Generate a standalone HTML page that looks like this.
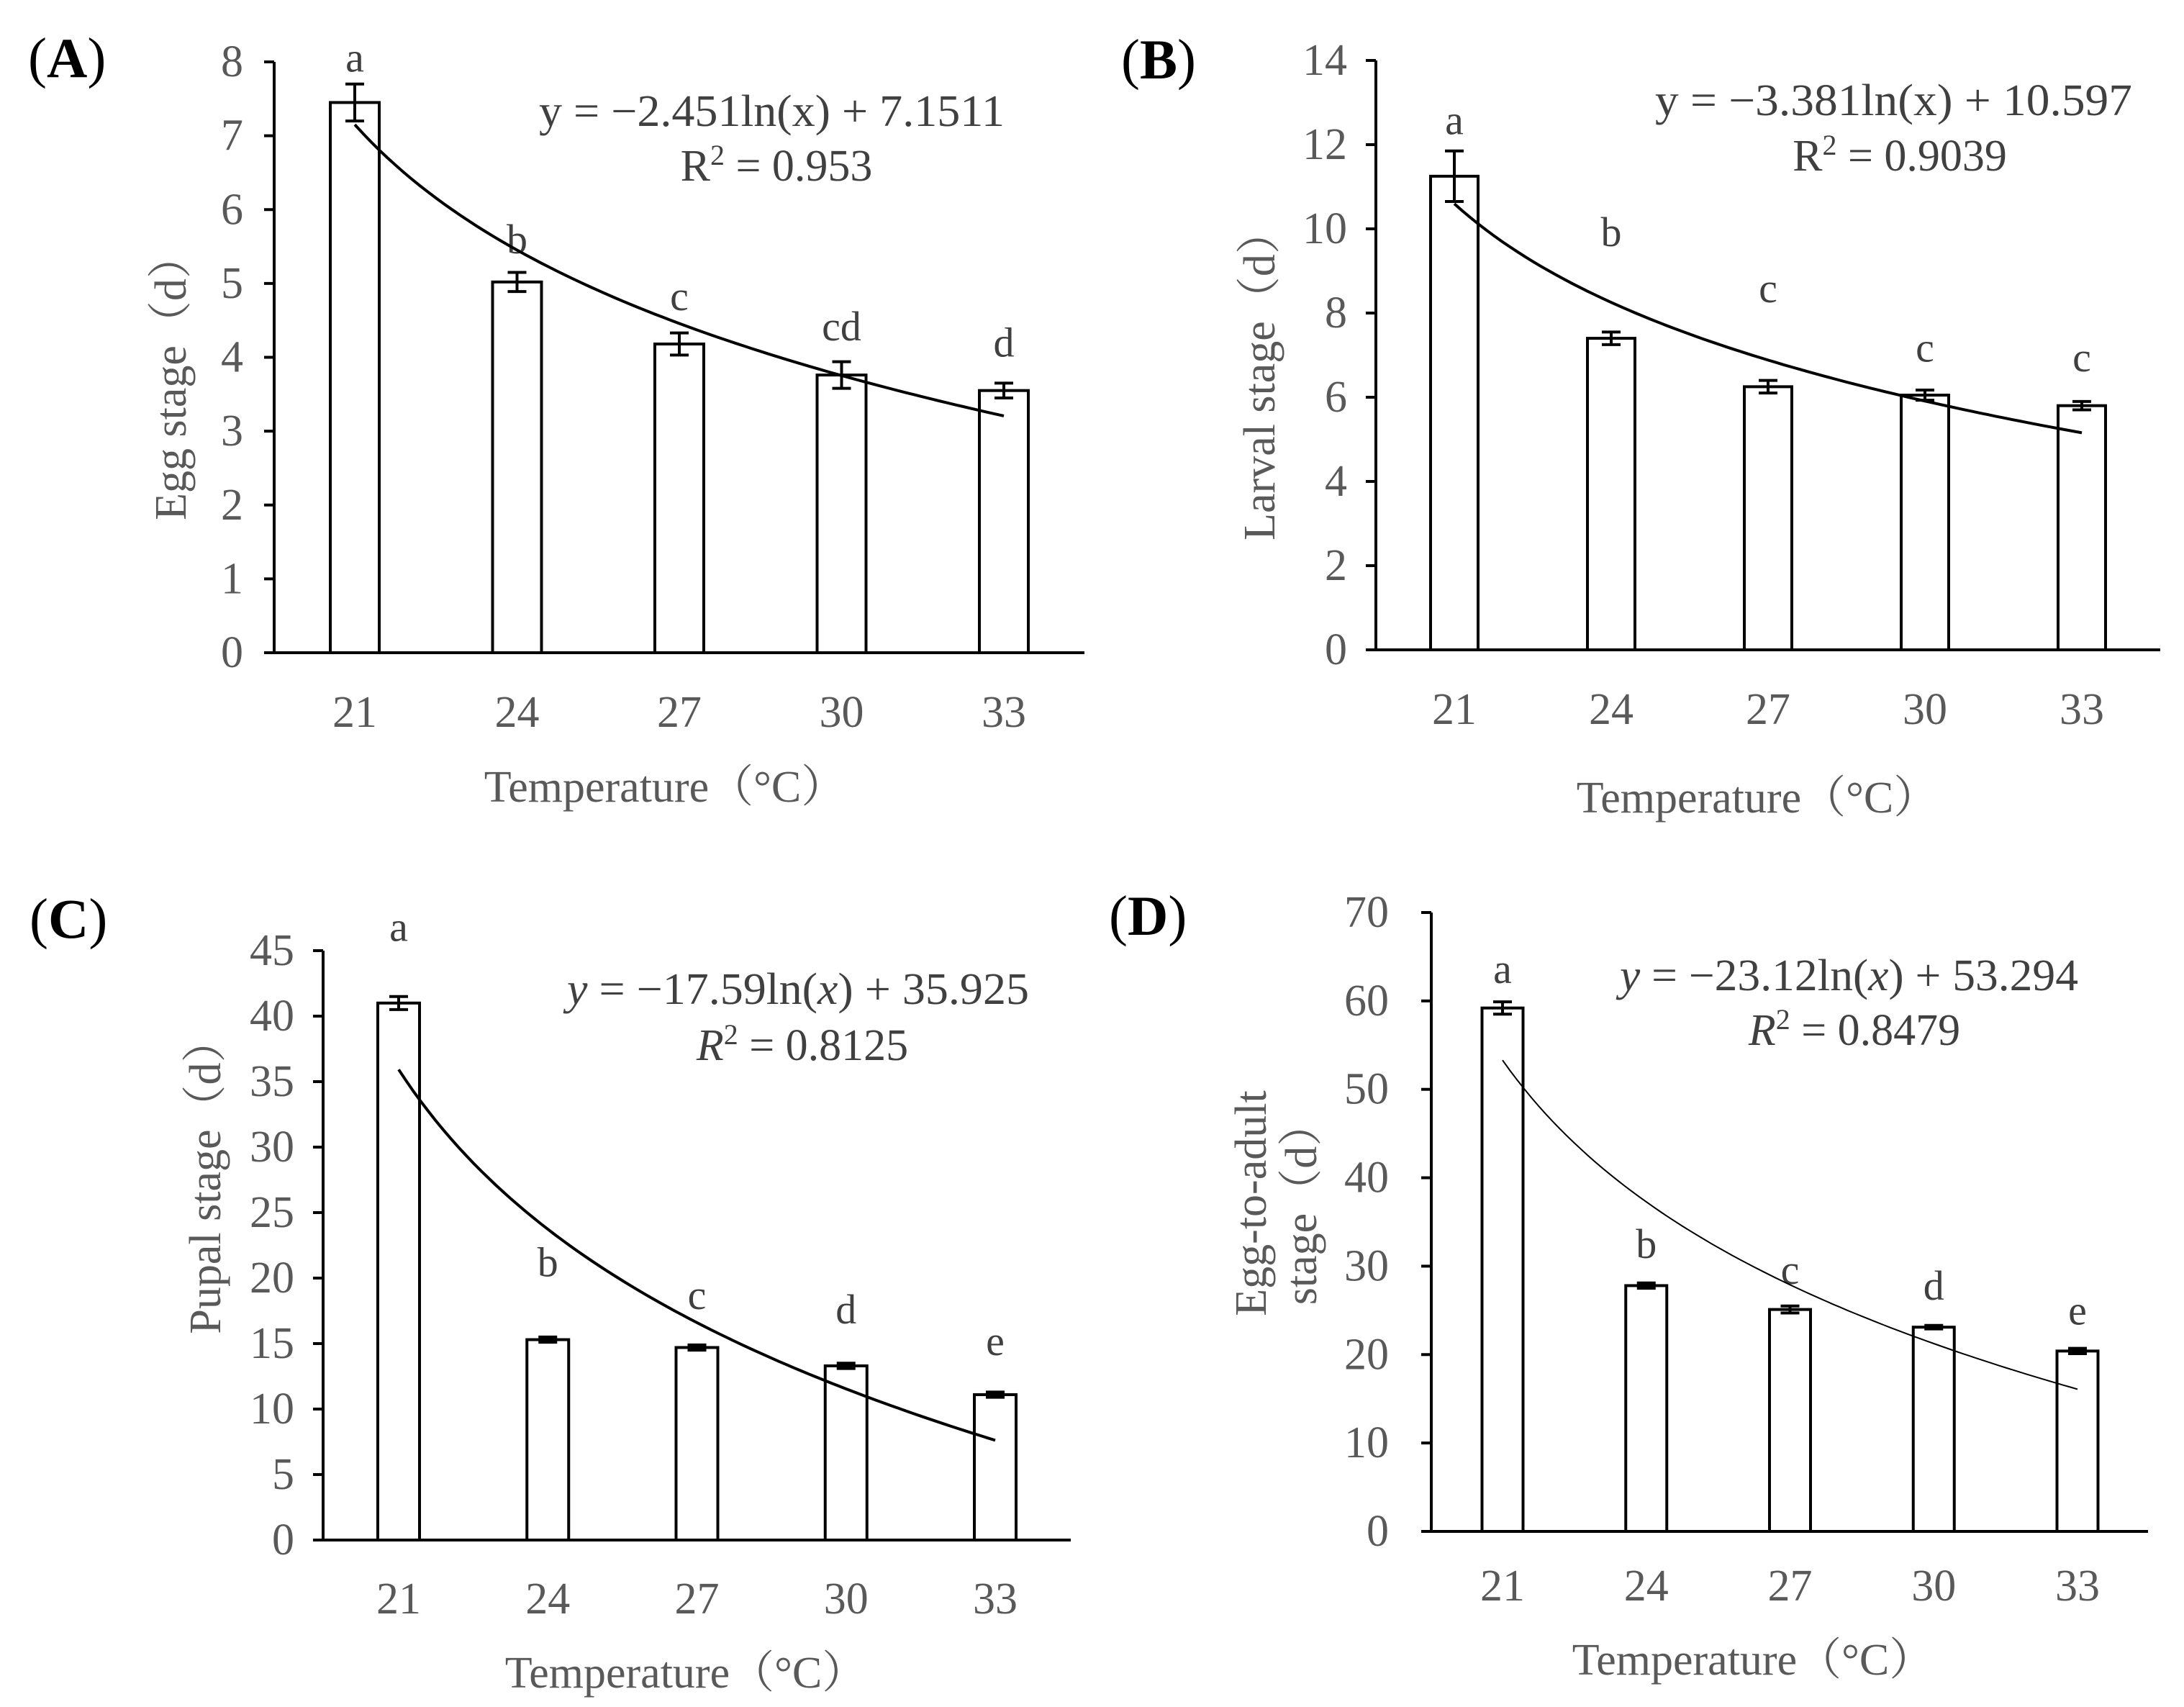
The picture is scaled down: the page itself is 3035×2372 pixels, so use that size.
<!DOCTYPE html>
<html><head><meta charset="utf-8"><style>
html,body{margin:0;padding:0;background:#fff;}
svg{display:block;}
text{font-family:"Liberation Serif","Noto Serif CJK SC",serif;}
</style></head><body>
<svg id="fig" width="3035" height="2372" viewBox="0 0 3035 2372" xmlns="http://www.w3.org/2000/svg"></svg>
<script>
const categories = ["21","24","27","30","33"];
const eggValues = [7.45,5.02,4.18,3.76,3.55];
const eggErrors = [0.25,0.13,0.15,0.18,0.10];
const eggLetters = ["a","b","c","cd","d"];
const eggLetterLevel = [8.06,5.6,4.83,4.42,4.2];
const eggTicks = [0,1,2,3,4,5,6,7,8];
const eggFit = [-2.451,7.1511];
const larvalValues = [11.25,7.4,6.25,6.05,5.8];
const larvalErrors = [0.6,0.15,0.15,0.12,0.1];
const larvalLetters = ["a","b","c","c","c"];
const larvalLetterLevel = [12.58,9.92,8.59,7.18,6.95];
const larvalTicks = [0,2,4,6,8,10,12,14];
const larvalFit = [-3.381,10.597];
const pupalValues = [41.0,15.3,14.7,13.3,11.1];
const pupalErrors = [0.5,0.2,0.2,0.2,0.2];
const pupalLetters = ["a","b","c","d","e"];
const pupalLetterLevel = [46.8,21.2,18.7,17.6,15.2];
const pupalTicks = [0,5,10,15,20,25,30,35,40,45];
const pupalFit = [-17.59,35.925];
const totalValues = [59.2,27.8,25.1,23.1,20.4];
const totalErrors = [0.7,0.3,0.4,0.2,0.3];
const totalLetters = ["a","b","c","d","e"];
const totalLetterLevel = [63.6,32.5,29.6,27.8,25.0];
const totalTicks = [0,10,20,30,40,50,60,70];
const totalFit = [-23.12,53.294];

const NS="http://www.w3.org/2000/svg";
const svg=document.getElementById('fig');
function mk(tag,attrs,parent,txt){const e=document.createElementNS(NS,tag);for(const k in attrs)e.setAttribute(k,attrs[k]);if(txt!==undefined)e.textContent=txt;(parent||svg).appendChild(e);return e;}

function panel(c){
  const g=mk('g',{});
  
  
  const ymax=c.ticks[c.ticks.length-1];
  const Y=v=>c.y0-(v/ymax)*(c.y0-c.ytop);
  const X=i=>c.c0+i*(c.c4-c.c0)/4;
  const pl=mk('text',{x:c.lx,y:c.ly,'font-size':78,'dominant-baseline':'central',fill:'#000'},g);
  
  
  pl.innerHTML='(<tspan font-weight="bold">'+c.label+'</tspan>)';
  c.values.forEach((v,i)=>{
    const r=mk('rect',{x:X(i)-c.bw/2,y:Y(v),width:c.bw,height:c.y0-Y(v),fill:'#fff',stroke:'#000','stroke-width':4},g);
    
    
    const e=c.errors[i];
    const eb=mk('path',{d:`M${X(i)},${Y(v+e)}V${Y(v-e)}M${X(i)-13},${Y(v+e)}h26M${X(i)-13},${Y(v-e)}h26`,stroke:'#000','stroke-width':4,fill:'none'},g);
    
    
    const lt=mk('text',{x:X(i),y:Y(c.letterLevel[i]),'font-size':58,'text-anchor':'middle','dominant-baseline':'central',fill:'#404040'},g,c.letters[i]);
    
    
    const xl=mk('text',{x:X(i),y:c.xly,'font-size':62,'text-anchor':'middle','dominant-baseline':'central',fill:'#595959'},g,categories[i]);
    
    
  });
  const ax=mk('path',{d:`M${c.ax},${Y(ymax)}V${c.y0}H${c.xr}`,stroke:'#000','stroke-width':4,fill:'none'},g);
  
  
  c.ticks.forEach(t=>{
    const tk=mk('line',{x1:c.ax-14,x2:c.ax,y1:Y(t),y2:Y(t),stroke:'#000','stroke-width':4},g);
    
    
    const tl=mk('text',{x:c.tx,y:Y(t),'font-size':62,'text-anchor':'end','dominant-baseline':'central',fill:'#595959'},g,String(t));
    
    
  });
  let d='';
  for(let k=0;k<=80;k++){const xv=1+4*k/80;const yv=c.fit[0]*Math.log(xv)+c.fit[1];d+=(k?'L':'M')+(X(xv-1)).toFixed(1)+','+Y(yv).toFixed(1);}
  const cv=mk('path',{d:d,stroke:'#000','stroke-width':c.cw,fill:'none'},g);
  
  
  const it=c.italic?'font-style="italic"':'';
  const eq=mk('text',{x:c.ex,y:c.ey,'font-size':62,fill:'#404040',textLength:c.ew,lengthAdjust:'spacingAndGlyphs'},g);
  
  
  eq.innerHTML=`<tspan ${it}>y</tspan> = −${Math.abs(c.fit[0])}ln(<tspan ${it}>x</tspan>) + ${c.fit[1]}`;
  const r2=mk('text',{x:c.rx,y:c.ry,'font-size':62,'text-anchor':'middle',fill:'#404040'},g);
  
  
  r2.innerHTML=`<tspan ${it}>R</tspan><tspan font-size="40" dy="-22">2</tspan><tspan dy="22"> = ${c.r2}</tspan>`;
  const xt=mk('text',{x:c.xtx,y:c.xty,'font-size':62,'text-anchor':'middle','dominant-baseline':'central',fill:'#595959'},g,'Temperature（°C）');
  
  
  c.ytitle.forEach((s,j)=>{
    const yt=mk('text',{x:0,y:0,'font-size':62,'text-anchor':'middle','dominant-baseline':'central',fill:'#595959',transform:`translate(${c.ytx[j]},${c.yty}) rotate(-90)`},g,s);
    
    
  });
}

panel({name:'panel-a-egg-stage',label:'A',lx:39,ly:80,values:eggValues,errors:eggErrors,letters:eggLetters,letterLevel:eggLetterLevel,ticks:eggTicks,fit:eggFit,
  y0:907,ytop:86,ax:381,xr:1507,c0:493,c4:1395,bw:68,tx:338,xly:990,cw:4,italic:false,ex:749,ey:175,ew:647,rx:1079,ry:251,r2:'0.953',
  xtx:924,xty:1094,ytitle:['Egg stage（d）'],ytx:[238],yty:524});
panel({name:'panel-b-larval-stage',label:'B',lx:1558,ly:82,values:larvalValues,errors:larvalErrors,letters:larvalLetters,letterLevel:larvalLetterLevel,ticks:larvalTicks,fit:larvalFit,
  y0:903,ytop:84,ax:1912,xr:3002,c0:2021,c4:2893,bw:66,tx:1872,xly:986,cw:4,italic:false,ex:2300,ey:160,ew:663,rx:2640,ry:237,r2:'0.9039',
  xtx:2442,xty:1109,ytitle:['Larval stage（d）'],ytx:[1751],yty:521});
panel({name:'panel-c-pupal-stage',label:'C',lx:41,ly:1276,values:pupalValues,errors:pupalErrors,letters:pupalLetters,letterLevel:pupalLetterLevel,ticks:pupalTicks,fit:pupalFit,
  y0:2140,ytop:1321,ax:449,xr:1488,c0:554,c4:1383,bw:58,tx:409,xly:2222,cw:4,italic:true,ex:788,ey:1395,ew:642,rx:1115,ry:1473,r2:'0.8125',
  xtx:953,xty:2325,ytitle:['Pupal stage（d）'],ytx:[286],yty:1634});
panel({name:'panel-d-egg-to-adult',label:'D',lx:1541,ly:1272,values:totalValues,errors:totalErrors,letters:totalLetters,letterLevel:totalLetterLevel,ticks:totalTicks,fit:totalFit,
  y0:2128,ytop:1268,ax:1989,xr:2985,c0:2088,c4:2887,bw:57,tx:1930,xly:2204,cw:2,italic:true,ex:2251,ey:1376,ew:637,rx:2577,ry:1452,r2:'0.8479',
  xtx:2436,xty:2307,ytitle:['Egg-to-adult','stage（d）'],ytx:[1739,1809],yty:1672});
</script>
</body></html>
